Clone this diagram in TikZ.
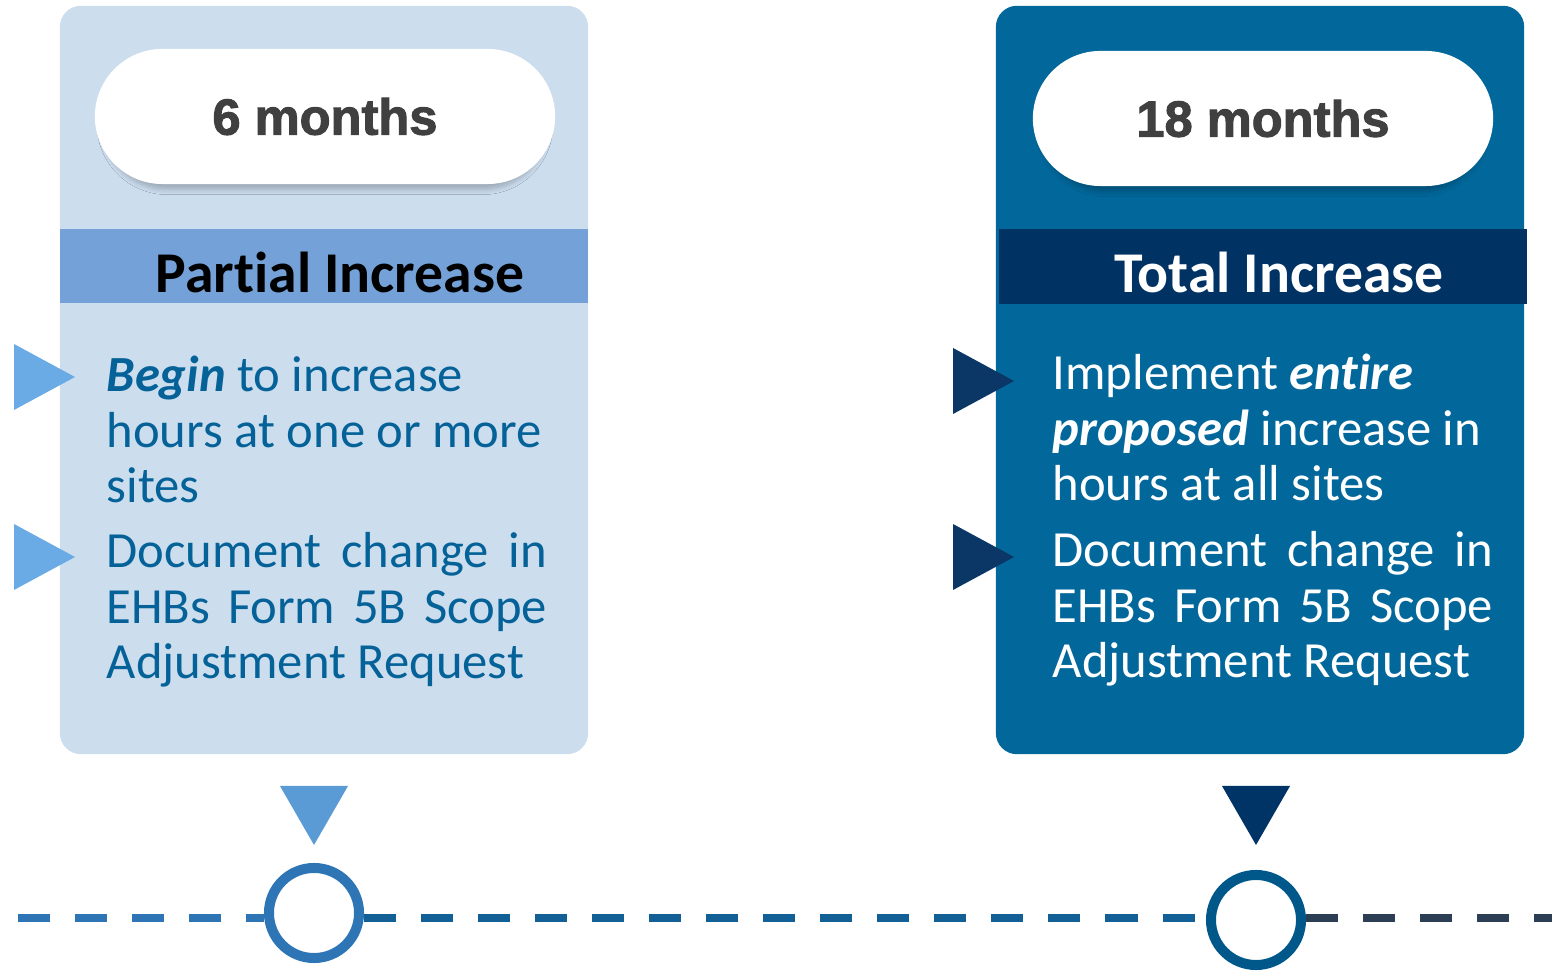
\documentclass[tikz,border=0pt]{standalone}
\usepackage{fontspec}
\setmainfont{Carlito}[Ligatures=NoCommon]
\newfontfamily\pillfont{Liberation Sans}[BoldFeatures={FakeBold=2}]
\usetikzlibrary{positioning,shadows,shadows.blur}
\definecolor{cardlight}{RGB}{204,221,238}
\definecolor{bandlight}{RGB}{116,162,216}
\definecolor{textlight}{RGB}{4,98,152}
\definecolor{bulletlight}{RGB}{106,170,229}
\definecolor{pointerlight}{RGB}{91,155,213}
\definecolor{ringlight}{RGB}{46,117,182}
\definecolor{carddark}{RGB}{2,103,154}
\definecolor{banddark}{RGB}{0,50,100}
\definecolor{bulletdark}{RGB}{10,55,102}
\definecolor{pointerdark}{RGB}{0,51,102}
\definecolor{ringdark}{RGB}{0,88,138}
\definecolor{pilltext}{RGB}{64,64,64}
\definecolor{dashmid}{RGB}{18,96,150}
\definecolor{dashend}{RGB}{44,62,84}

\begin{document}
\begin{tikzpicture}[x=0.01cm, y=-0.01cm,
    card/.style={minimum width=5.28cm, minimum height=7.48cm, rounded corners=6pt, inner sep=0pt},
    pill/.style={fill=white, minimum width=4.6cm, minimum height=1.35cm, rounded corners=0.675cm,
      inner sep=0pt, blur shadow={shadow xshift=0pt, shadow yshift=-0.08cm, shadow scale=0.97,
        shadow opacity=22, shadow blur radius=0.05cm, shadow blur steps=6},
      font=\pillfont\bfseries\fontsize{14.4}{16}\selectfont, text=pilltext},
    band/.style={minimum width=5.28cm, minimum height=0.74cm, inner sep=0pt},
    headtext/.style={anchor=base, inner sep=0pt, font=\bfseries\fontsize{16.4}{18}\selectfont},
    bodytext/.style={anchor=base west, inner sep=0pt, text width=4.7cm, align=flush left,
      font=\fontsize{14.4}{15.65}\selectfont},
    ring/.style={circle, draw, fill=white, line width=0.1cm, minimum size=0.9cm, inner sep=0pt},
    timeline/.style={line width=0.08cm, dash pattern=on 0.32cm off 0.25cm}
  ]
  \useasboundingbox (0,0) rectangle (1552,974);

  % Cards
  \node[card, fill=cardlight] (cardL) at (324,380) {};
  \node[card, fill=carddark] (cardR) at (1260,380) {};

  % Duration pills
  \node[pill] (pillL) at (325,116.5) {6 months};
  \node[pill] (pillR) at (1263,118.5) {18 months};

  % Header bands
  \node[band, fill=bandlight] (bandL) at (324,266) {};
  \node[band, fill=banddark] (bandR) at (1263,266.5) {};
  \node[headtext, text=black] (headL) at (340,293) {Partial Increase};
  \node[headtext, text=white] (headR) at (1279,293) {Total Increase};

  % Bullet markers
  \newcommand{\bulletTri}[3]{% colour, x, y of tip
    \fill[#1] (#2,#3) -- ++(-61,-33) -- ++(0,66) -- cycle;
  }
  \bulletTri{bulletlight}{75}{377}
  \bulletTri{bulletlight}{75}{557}
  \bulletTri{bulletdark}{1014}{381}
  \bulletTri{bulletdark}{1014}{557}

  % Justified line of the bullet texts
  \newcommand{\fullLine}[1]{\leavevmode\hbox to 4.4cm{\spaceskip=\fontdimen2\font plus 1fil\relax #1}}

  % Bullet texts
  \node[bodytext, text=textlight] (itemL1) at (106,392)
    {\textbf{\textit{Begin}} to increase\\hours at one or more\\sites};
  \node[bodytext, text=textlight] (itemL2) at (106,568)
    {\fullLine{Document change in}\\\fullLine{EHBs Form 5B Scope}\\Adjustment Request};
  \node[bodytext, text=white] (itemR1) at (1052,390)
    {Implement \textbf{\textit{entire}}\\\textbf{\textit{proposed}} increase in\\hours at all sites};
  \node[bodytext, text=white] (itemR2) at (1052,567)
    {\fullLine{Document change in}\\\fullLine{EHBs Form 5B Scope}\\Adjustment Request};

  % Pointers down to the timeline
  \fill[pointerlight] (280,786) -- (348,786) -- (314,845) -- cycle;
  \fill[pointerdark] (1222,786) -- (1290,786) -- (1256,845) -- cycle;

  % Timeline
  \coordinate (tlStart) at (18,918);
  \coordinate (tlEnd) at (1552,918);
  \node[ring, draw=ringlight] (ring1) at (314,913) {};
  \node[ring, draw=ringdark] (ring2) at (1256,920) {};
  \draw[timeline, ringlight] (tlStart) -- (tlStart -| ring1.west);
  \draw[timeline, dashmid] (tlStart -| ring1.east) -- (tlStart -| ring2.west);
  \draw[timeline, dashend] (tlStart -| ring2.east) -- (tlEnd);
\end{tikzpicture}
\end{document}
